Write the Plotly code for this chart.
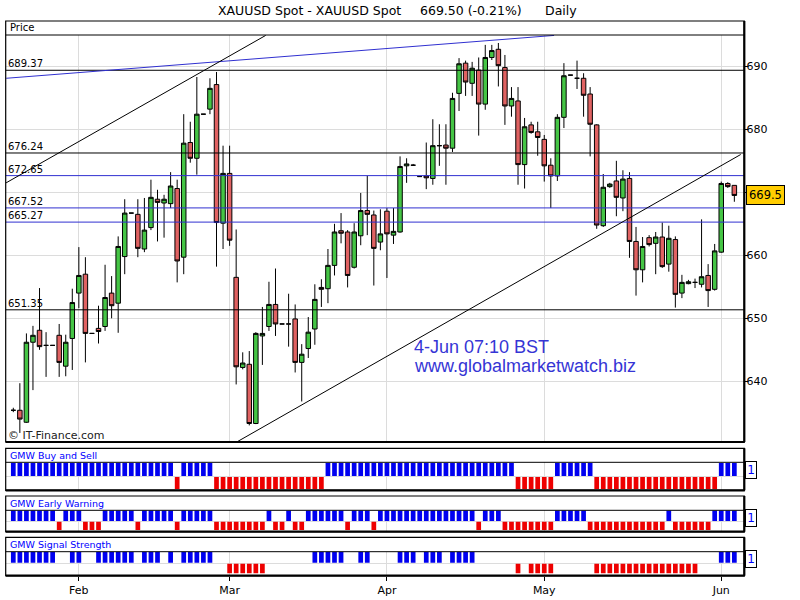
import plotly.graph_objects as go

W, H = 800, 600


def px(x):
    return x / W


def py(y):
    return 1 - y / H


# ------------------------------------------------------------------ data
bar_idx = list(range(111))

open_ = [635.4, 635.4, 633.5, 646.2, 648.1, 645.7, 645.7, 647.3, 642.4, 646.8,
         654.0, 657.0, 647.6, 648.4, 648.7, 654.0, 652.4, 659.8, 666.7, 666.5,
         661.0, 664.4, 668.9, 668.3, 668.2, 670.6, 659.7, 677.9, 675.4, 682.4,
         683.2, 687.1, 665.1, 673.0, 656.5, 642.2, 642.7, 633.3, 647.2, 648.7,
         652.2, 649.1, 649.1, 649.9, 643.0, 645.2, 648.3, 654.9, 654.7, 658.4,
         663.9, 663.7, 658.1, 663.1, 667.1, 666.4, 662.1, 667.0, 663.2, 663.7,
         674.2, 674.3, 672.5, 672.6, 672.2, 677.4, 677.5, 677.0, 685.7, 690.5,
         687.3, 689.4, 684.0, 691.4, 692.7, 689.8, 683.7, 684.5, 674.4, 680.7,
         679.6, 678.4, 674.3, 672.6, 681.9, 688.6, 688.1, 688.1, 685.6, 680.7,
         664.7, 670.9, 671.8, 669.1, 672.2, 662.2, 657.7, 662.8, 661.9, 662.9,
         658.6, 662.5, 654.0, 655.5, 655.7, 655.4, 656.8, 654.6, 660.5, 671.4,
         671.1]
high_ = [635.8, 639.7, 647.6, 648.8, 654.8, 647.8, 645.7, 649.1, 647.4, 654.7,
         661.3, 659.7, 647.6, 652.0, 658.5, 656.7, 663.0, 668.9, 666.7, 668.9,
         669.1, 672.0, 670.4, 669.6, 673.2, 672.0, 682.4, 681.2, 688.3, 682.4,
         688.1, 689.1, 677.4, 677.4, 664.1, 644.6, 644.8, 647.8, 651.8, 655.8,
         657.9, 649.1, 653.9, 652.2, 645.9, 650.2, 655.4, 656.2, 661.0, 665.0,
         666.7, 664.0, 665.1, 669.9, 672.6, 667.1, 667.3, 667.5, 667.5, 675.7,
         675.4, 674.5, 672.5, 677.9, 681.6, 680.8, 680.8, 685.8, 691.3, 690.9,
         690.7, 691.4, 693.4, 693.4, 693.7, 691.8, 686.7, 686.7, 681.8, 681.2,
         681.2, 679.1, 675.4, 682.4, 690.5, 688.6, 690.9, 688.9, 686.7, 680.8,
         672.9, 671.5, 675.0, 673.5, 673.2, 664.5, 662.9, 663.2, 663.7, 665.2,
         664.7, 663.0, 656.9, 656.1, 656.3, 665.7, 658.6, 661.8, 671.7, 671.6,
         671.1]
low_ = [635.1, 631.8, 633.4, 638.6, 645.0, 640.7, 645.7, 640.7, 640.8, 641.8,
        651.6, 643.0, 647.6, 646.0, 648.0, 650.0, 647.7, 657.0, 666.7, 659.7,
        660.5, 664.0, 662.2, 662.8, 667.5, 655.7, 657.0, 674.7, 672.8, 682.4,
        682.4, 658.2, 661.0, 661.5, 639.5, 641.9, 633.0, 633.2, 642.6, 648.0,
        647.2, 649.1, 645.5, 641.4, 636.8, 643.7, 645.8, 651.8, 652.4, 656.8,
        661.9, 654.9, 657.9, 661.6, 663.2, 655.2, 660.8, 656.4, 661.8, 663.6,
        671.5, 674.2, 672.5, 670.5, 671.2, 674.2, 671.2, 676.4, 682.9, 685.3,
        685.3, 679.0, 683.1, 691.0, 686.8, 680.7, 682.0, 671.2, 670.6, 679.3,
        675.8, 671.7, 667.5, 671.8, 680.2, 688.6, 686.4, 682.0, 675.7, 664.2,
        664.5, 670.7, 666.2, 667.0, 659.6, 653.6, 655.7, 661.4, 657.0, 658.0,
        657.4, 651.7, 653.2, 655.4, 654.8, 654.9, 651.8, 654.4, 660.4, 670.7,
        668.5]
close_ = [635.4, 634.0, 646.2, 647.3, 645.5, 645.7, 645.7, 643.0, 646.2, 652.5,
          656.8, 647.6, 647.6, 647.9, 653.3, 652.0, 661.4, 666.7, 666.7, 661.1,
          664.0, 669.2, 668.4, 668.9, 671.0, 659.1, 677.8, 675.4, 682.4, 682.4,
          686.5, 665.2, 673.0, 662.4, 642.3, 642.9, 633.3, 647.6, 647.6, 652.2,
          649.1, 649.1, 649.1, 643.0, 644.3, 647.8, 653.0, 654.6, 658.4, 663.7,
          663.5, 656.8, 663.7, 667.1, 666.5, 661.1, 663.4, 663.4, 663.8, 674.1,
          674.5, 674.3, 672.5, 672.3, 677.4, 677.4, 677.0, 684.9, 690.4, 687.5,
          689.7, 684.0, 691.4, 692.5, 690.1, 683.7, 684.9, 674.4, 680.4, 679.5,
          678.7, 674.2, 672.6, 681.9, 688.5, 688.6, 688.1, 685.4, 680.8, 664.8,
          670.8, 671.3, 669.2, 672.1, 662.2, 657.7, 661.4, 661.7, 662.9, 658.2,
          662.7, 653.8, 655.7, 655.8, 655.7, 656.6, 654.4, 660.7, 671.4, 670.9,
          669.5]

# indicator panels: +1 = blue (upper), -1 = red (lower), 0 = none
buy_sell = [1, 1, 1, 1, 1, 1, 1, 1, 1, 1,
            1, 1, 1, 1, 1, 1, 1, 1, 1, 1,
            1, 1, 1, 1, 1, -1, 1, 1, 1, 1,
            1, -1, -1, -1, -1, -1, -1, -1, -1, -1,
            -1, -1, -1, -1, -1, -1, -1, -1, 1, 1,
            1, 1, 1, 1, 1, 1, 1, 1, 1, 1,
            1, 1, 1, 1, 1, 1, 1, 1, 1, 1,
            1, 1, 1, 1, 1, 1, 1, -1, -1, -1,
            -1, -1, -1, 1, 1, 1, 1, 1, 1, -1,
            -1, -1, -1, -1, -1, -1, -1, -1, -1, -1,
            -1, -1, -1, -1, -1, -1, -1, -1, 1, 1,
            1]
early_warning = [1, 1, 1, 1, 1, 1, 1, -1, 1, 1,
                 1, -1, -1, -1, 1, 1, 1, 1, 1, -1,
                 1, 1, 1, 1, 1, -1, 1, 1, 1, 1,
                 1, -1, -1, -1, -1, -1, -1, -1, -1, 1,
                 -1, -1, 1, -1, -1, 1, 1, 1, 1, 1,
                 1, -1, 1, 1, 1, -1, 1, 1, 1, 1,
                 1, 1, 1, 1, 1, 1, 1, 1, 1, 1,
                 1, -1, 1, 1, 1, -1, -1, -1, -1, -1,
                 -1, -1, -1, 1, 1, 1, 1, 1, -1, -1,
                 -1, -1, -1, -1, -1, -1, -1, -1, -1, -1,
                 1, -1, -1, -1, -1, -1, -1, 1, 1, 1,
                 1]
signal_strength = [1, 1, 1, 1, 1, 1, 1, 0, 0, 1,
                   1, 0, 0, 1, 1, 1, 1, 1, 1, 0,
                   1, 1, 1, 0, 1, 0, 1, 1, 1, 1,
                   1, 0, 0, -1, -1, -1, -1, -1, -1, 0,
                   0, 0, 0, 0, 0, 0, 1, 1, 1, 1,
                   1, 0, 0, 1, 1, 0, 0, 0, 0, 1,
                   1, 1, 0, 1, 1, 1, 0, 1, 1, 1,
                   1, 0, 0, 0, 0, 0, 0, -1, 0, -1,
                   -1, -1, -1, 0, 0, 0, 0, 0, 0, -1,
                   -1, -1, -1, -1, -1, -1, -1, -1, -1, -1,
                   -1, -1, -1, -1, -1, 0, 0, 0, 1, 1,
                   1]

month_ticks = [10, 33, 57, 81, 108]
month_labels = ["Feb", "Mar", "Apr", "May", "Jun"]

price_ticks = [640, 650, 660, 670, 680, 690]
price_labels = ["640", "650", "660", "", "680", "690"]

black_levels = [689.37, 676.24, 651.35]
blue_levels = [672.65, 667.52, 665.27]

# trend lines: (bar index pair, price pair)
trend_blue_x, trend_blue_y = [-1.08, 82.5], [688.1, 694.9]
trend_up1_x, trend_up1_y = [-1.1, 38.5], [671.5, 694.9]
trend_up2_x, trend_up2_y = [34.15, 110.97], [630.4, 676.0]

last_price = 669.5
title_parts = ["XAUUSD Spot - XAUUSD Spot", "669.50 (-0.21%)", "Daily"]
panel_titles = ["GMW Buy and Sell", "GMW Early Warning", "GMW Signal Strength"]

# ------------------------------------------------------------------ style
GREEN = "#45c545"
RED = "#e06262"
IBLUE = "#0000f0"
IRED = "#ee0000"
LBLUE = "#3030d0"
GRID = "#dcdcdc"
FONT = "DejaVu Sans"

X_LEFT, X_RIGHT = 5.7, 744.3
X0_PX, DX_PX = 13.3, 6.555
x_range = [(X_LEFT - X0_PX) / DX_PX, (X_RIGHT - X0_PX) / DX_PX]

MAIN_TOP, MAIN_BOT = 35, 442


def price_at(y):
    return 690 - (y - 66.3) / 6.3


fig = go.Figure()

fig.add_trace(go.Candlestick(
    x=bar_idx, open=open_, high=high_, low=low_, close=close_,
    increasing=dict(line=dict(color="black", width=1), fillcolor=GREEN),
    decreasing=dict(line=dict(color="black", width=1), fillcolor=RED),
    whiskerwidth=0, xaxis="x", yaxis="y", showlegend=False, hoverinfo="skip",
))

# panels: (series, yaxis, region top, region bottom, blue top, blue bottom, red top, red bottom)
panels = [
    (buy_sell, "y2", 462.3, 490.3, 463.0, 476.0, 477.0, 489.0),
    (early_warning, "y3", 510.3, 531.7, 510.6, 521.0, 521.7, 530.0),
    (signal_strength, "y4", 551.7, 575.7, 551.9, 562.7, 563.7, 573.3),
]


def pval(y, top, bot):
    return 1 - 2 * (y - top) / (bot - top)


for series, yax, top, bot, bt, bb, rt, rb in panels:
    bx = [i for i, v in zip(bar_idx, series) if v > 0]
    rx = [i for i, v in zip(bar_idx, series) if v < 0]
    b0, b1 = pval(bb, top, bot), pval(bt, top, bot)
    r0, r1 = pval(rb, top, bot), pval(rt, top, bot)
    fig.add_trace(go.Bar(x=bx, y=[b1 - b0] * len(bx), base=b0, width=0.72,
                         marker=dict(color=IBLUE, line=dict(width=0)),
                         xaxis="x", yaxis=yax, showlegend=False, hoverinfo="skip"))
    fig.add_trace(go.Bar(x=rx, y=[r1 - r0] * len(rx), base=r0, width=0.72,
                         marker=dict(color=IRED, line=dict(width=0)),
                         xaxis="x", yaxis=yax, showlegend=False, hoverinfo="skip"))

shapes = []
# level lines
for lv in black_levels:
    shapes.append(dict(type="line", xref="paper", yref="y", x0=px(X_LEFT), x1=px(X_RIGHT),
                       y0=lv, y1=lv, line=dict(color="black", width=1)))
for lv in blue_levels:
    shapes.append(dict(type="line", xref="paper", yref="y", x0=px(X_LEFT), x1=px(X_RIGHT),
                       y0=lv, y1=lv, line=dict(color=LBLUE, width=1)))
# trend lines
for tx, ty, col in [(trend_blue_x, trend_blue_y, LBLUE),
                    (trend_up1_x, trend_up1_y, "black"),
                    (trend_up2_x, trend_up2_y, "black")]:
    shapes.append(dict(type="line", xref="x", yref="y", x0=tx[0], x1=tx[1],
                       y0=ty[0], y1=ty[1], line=dict(color=col, width=1)))

# panel frames
frames = [(21, MAIN_TOP, MAIN_BOT), (448.3, 462.3, 490.3), (496, 510.3, 531.7), (537.3, 551.7, 575.7)]
for ftop, fsep, fbot in frames:
    shapes.append(dict(type="rect", xref="paper", yref="paper", x0=px(X_LEFT), x1=px(X_RIGHT),
                       y0=py(fbot), y1=py(ftop), line=dict(color="black", width=1.2)))
    shapes.append(dict(type="line", xref="paper", yref="paper", x0=px(X_LEFT), x1=px(X_RIGHT),
                       y0=py(fsep), y1=py(fsep), line=dict(color="black", width=1)))
    shapes.append(dict(type="line", xref="paper", yref="paper", x0=px(X_LEFT), x1=px(X_RIGHT + 0.5),
                       y0=py(fbot), y1=py(fbot), line=dict(color="black", width=2.2)))
    shapes.append(dict(type="line", xref="paper", yref="paper", x0=px(X_RIGHT), x1=px(X_RIGHT),
                       y0=py(fbot), y1=py(ftop), line=dict(color="black", width=2.2)))

ann = []
# title
for txt, xl in zip(title_parts, [216, 418, 543]):
    ann.append(dict(text=txt, x=px(xl), y=py(10), xref="paper", yref="paper",
                    xanchor="left", yanchor="middle", showarrow=False,
                    font=dict(family=FONT, size=12.5, color="black")))
ann.append(dict(text="Price", x=px(7.5), y=py(28), xref="paper", yref="paper",
                xanchor="left", yanchor="middle", showarrow=False,
                font=dict(family=FONT, size=10, color="black")))
# level labels
for lv in black_levels + blue_levels:
    ann.append(dict(text=f"{lv:.2f}", x=px(7), y=lv, xref="paper", yref="y",
                    xanchor="left", yanchor="bottom", showarrow=False, borderpad=0,
                    font=dict(family=FONT, size=10, color="black")))
# watermark texts
ann.append(dict(text="4-Jun 07:10 BST", x=px(412), y=py(346.5), xref="paper", yref="paper",
                xanchor="left", yanchor="middle", showarrow=False,
                font=dict(family="Liberation Sans", size=18, color="#3535d5")))
ann.append(dict(text="www.globalmarketwatch.biz", x=px(412), y=py(366), xref="paper", yref="paper",
                xanchor="left", yanchor="middle", showarrow=False,
                font=dict(family="Liberation Sans", size=18, color="#3535d5")))
ann.append(dict(text="© IT-Finance.com", x=px(6), y=py(435.5), xref="paper", yref="paper",
                xanchor="left", yanchor="middle", showarrow=False,
                font=dict(family=FONT, size=11, color="#222222")))
# panel titles and "1" boxes
for txt, (ftop, fsep, fbot), bc in zip(panel_titles, frames[1:], [470.3, 518.0, 558.8]):
    ann.append(dict(text=txt, x=px(7.5), y=py((ftop + fsep) / 2), xref="paper", yref="paper",
                    xanchor="left", yanchor="middle", showarrow=False,
                    font=dict(family=FONT, size=9.5, color="#0000ff")))
    ann.append(dict(text="1", x=px(751.3), y=py(bc), xref="paper", yref="paper",
                    xanchor="center", yanchor="middle", showarrow=False,
                    width=8, height=14, borderpad=1, bordercolor="black", borderwidth=1,
                    bgcolor="white", font=dict(family=FONT, size=12, color="#0000ff")))
# last price tag
ann.append(dict(text=f"{last_price}", x=px(745.7), y=last_price, xref="paper", yref="y",
                xanchor="left", yanchor="middle", showarrow=False, borderpad=2,
                bordercolor="black", borderwidth=1, bgcolor="#ffcc00",
                font=dict(family=FONT, size=11.5, color="black")))

fig.update_layout(
    width=W, height=H, margin=dict(l=0, r=0, t=0, b=0),
    paper_bgcolor="white", plot_bgcolor="white",
    showlegend=False, hovermode=False, barmode="overlay",
    boxgap=0.3, boxgroupgap=0.02,
    xaxis=dict(domain=[px(X_LEFT), px(X_RIGHT)], range=x_range, anchor="y4",
               tickvals=month_ticks, ticktext=month_labels, ticks="outside", ticklen=4,
               tickcolor="black", showgrid=True, gridcolor=GRID, gridwidth=1,
               zeroline=False, showline=False, rangeslider=dict(visible=False),
               tickfont=dict(family=FONT, size=11, color="black")),
    yaxis=dict(domain=[py(MAIN_BOT), py(MAIN_TOP)], range=[price_at(MAIN_BOT), price_at(MAIN_TOP)],
               anchor="x", side="right", tickvals=price_ticks, ticktext=price_labels,
               ticks="outside", ticklen=3, tickcolor="black", showgrid=True, gridcolor=GRID,
               zeroline=False, showline=False, ticklabelstandoff=-4,
               tickfont=dict(family=FONT, size=11, color="black")),
    shapes=shapes, annotations=ann,
)
for (series, yax, top, bot, *_rest) in panels:
    key = "yaxis" + yax[1:]
    fig.layout[key] = dict(domain=[py(bot), py(top)], range=[-1, 1], anchor="x", side="right",
                           tickvals=[0], showticklabels=False, ticks="outside", ticklen=3,
                           tickcolor="black", showgrid=True, gridcolor=GRID,
                           zeroline=False, showline=False)

# remove the page's default 8 px body margin so the figure sits at the window corner
fig.write_html("out.html", config={"displayModeBar": False},
               post_script="document.body.style.margin='0px';document.body.style.overflow='hidden';")
